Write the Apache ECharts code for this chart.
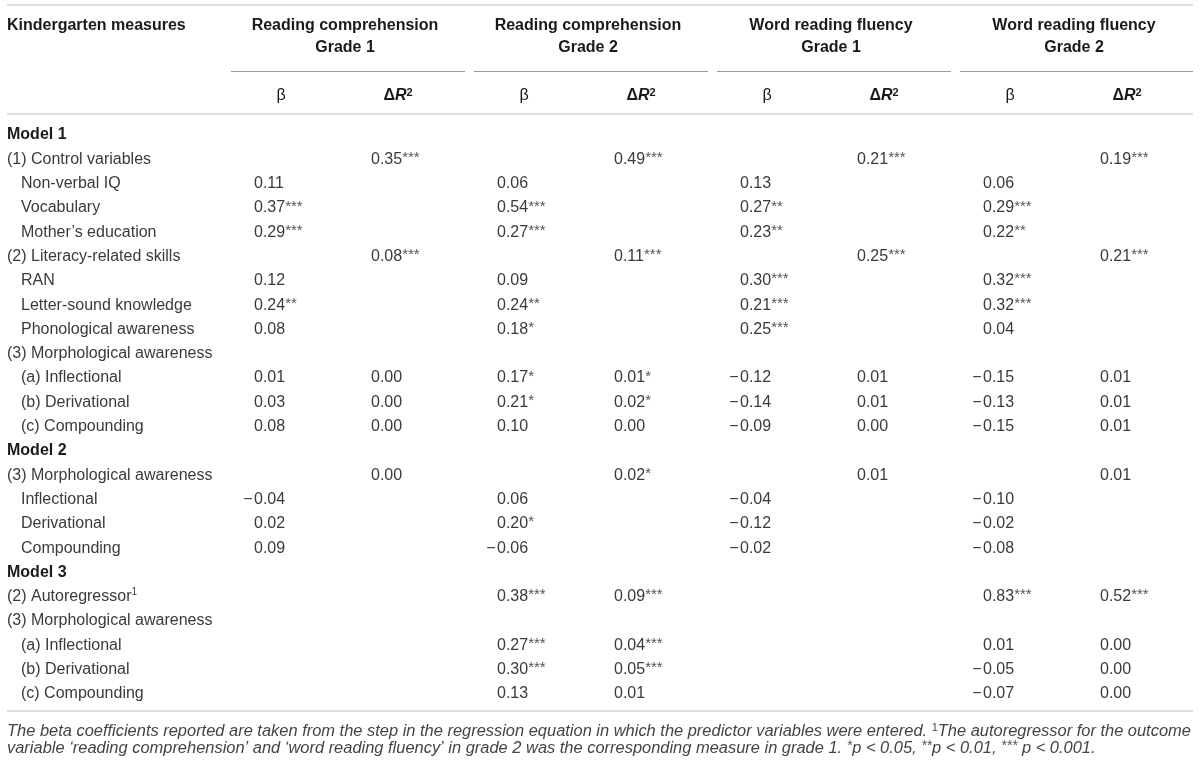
<!DOCTYPE html>
<html><head><meta charset="utf-8">
<script src="https://cdn.jsdelivr.net/npm/echarts@6/dist/echarts.min.js"></script>
<style>html,body{margin:0;padding:0;background:#fff}#c{width:1200px;height:767px}</style>
</head><body><div id="c"></div>
<script>
// ---------------- DATA ----------------
const stubHeader = 'Kindergarten measures';
const groupTitles = ['Reading comprehension', 'Reading comprehension', 'Word reading fluency', 'Word reading fluency'];
const groupGrades = ['Grade 1', 'Grade 2', 'Grade 1', 'Grade 2'];
const statHeaders = ['beta', 'dR2'];
const rowLabels = ['Model 1', '(1) Control variables', 'Non-verbal IQ', 'Vocabulary', 'Mother’s education',
  '(2) Literacy-related skills', 'RAN', 'Letter-sound knowledge', 'Phonological awareness',
  '(3) Morphological awareness', '(a) Inflectional', '(b) Derivational', '(c) Compounding',
  'Model 2', '(3) Morphological awareness', 'Inflectional', 'Derivational', 'Compounding',
  'Model 3', '(2) Autoregressor^1', '(3) Morphological awareness', '(a) Inflectional', '(b) Derivational', '(c) Compounding'];
const rowLevels = [0, 1, 2, 2, 2, 1, 2, 2, 2, 1, 2, 2, 2, 0, 1, 2, 2, 2, 0, 1, 1, 2, 2, 2];
const N = null;
const rcG1Beta  = [N, N, '0.11', '0.37***', '0.29***', N, '0.12', '0.24**', '0.08', N, '0.01', '0.03', '0.08', N, N, '-0.04', '0.02', '0.09', N, N, N, N, N, N];
const rcG1R2    = [N, '0.35***', N, N, N, '0.08***', N, N, N, N, '0.00', '0.00', '0.00', N, '0.00', N, N, N, N, N, N, N, N, N];
const rcG2Beta  = [N, N, '0.06', '0.54***', '0.27***', N, '0.09', '0.24**', '0.18*', N, '0.17*', '0.21*', '0.10', N, N, '0.06', '0.20*', '-0.06', N, '0.38***', N, '0.27***', '0.30***', '0.13'];
const rcG2R2    = [N, '0.49***', N, N, N, '0.11***', N, N, N, N, '0.01*', '0.02*', '0.00', N, '0.02*', N, N, N, N, '0.09***', N, '0.04***', '0.05***', '0.01'];
const wrfG1Beta = [N, N, '0.13', '0.27**', '0.23**', N, '0.30***', '0.21***', '0.25***', N, '-0.12', '-0.14', '-0.09', N, N, '-0.04', '-0.12', '-0.02', N, N, N, N, N, N];
const wrfG1R2   = [N, '0.21***', N, N, N, '0.25***', N, N, N, N, '0.01', '0.01', '0.00', N, '0.01', N, N, N, N, N, N, N, N, N];
const wrfG2Beta = [N, N, '0.06', '0.29***', '0.22**', N, '0.32***', '0.32***', '0.04', N, '-0.15', '-0.13', '-0.15', N, N, '-0.10', '-0.02', '-0.08', N, '0.83***', N, '0.01', '-0.05', '-0.07'];
const wrfG2R2   = [N, '0.19***', N, N, N, '0.21***', N, N, N, N, '0.01', '0.01', '0.01', N, '0.01', N, N, N, N, '0.52***', N, '0.00', '0.00', '0.00'];
const footnoteLines = [
  'The beta coefficients reported are taken from the step in the regression equation in which the predictor variables were entered. ^1The autoregressor for the outcome',
  'variable ‘reading comprehension’ and ‘word reading fluency’ in grade 2 was the corresponding measure in grade 1. *p < 0.05, **p < 0.01, *** p < 0.001.'
];

// ---------------- LAYOUT ----------------
const columns = [rcG1Beta, rcG1R2, rcG2Beta, rcG2R2, wrfG1Beta, wrfG1R2, wrfG2Beta, wrfG2R2];
const W = 1200, H = 767;
const FONT = "'Liberation Sans', Arial, Helvetica, sans-serif";
const TXT = '#3a3a3a', HEAD = '#1a1a1a', STAR = '#555555', FOOT = '#444444';
const FS = 16;
const STUB_X = 7, INDENT = 14;
const GROUP_X0 = 231, GROUP_W = 243, GROUP_RULE_W = 234;
const SUB_DX = [23, 140];
const HEAD_DX = 27;
const ROW0_PX = 135, ROW_H = 24.3;
const toRow = px => (px - ROW0_PX) / ROW_H;
const colX = k => GROUP_X0 + Math.floor(k / 2) * GROUP_W + SUB_DX[k % 2];

const SUPS = {
  s: { fontSize: 15, verticalAlign: 'top', lineHeight: 12, fill: STAR, fontFamily: FONT },
  u: { fontSize: 10, verticalAlign: 'top', lineHeight: 11, fill: TXT, fontFamily: FONT }
};
function baseStyle(extra) {
  return Object.assign({ fontSize: FS, fontFamily: FONT, fill: TXT, lineHeight: 18, verticalAlign: 'middle', align: 'left' }, extra);
}
function textEl(p, style) { return { type: 'text', x: p[0], y: p[1], style: style }; }

// Row labels
const labelData = rowLabels.map((l, i) => [STUB_X + (rowLevels[i] === 2 ? INDENT : 0), i]);

// Cells
const cellSeries = columns.map((col, k) => {
  const data = [];
  col.forEach((v, i) => { if (v != null) data.push([colX(k), i, i]); });
  return {
    type: 'custom', coordinateSystem: 'cartesian2d', silent: true, clip: false,
    data: data,
    renderItem: function (params, api) {
      const p = api.coord([api.value(0), api.value(1)]);
      const raw = col[api.value(2)];
      const m = raw.match(/^(-?)([\d.]+)(\**)$/);
      const body = m[2] + (m[3] ? '{s|' + m[3] + '}' : '');
      const children = [textEl([0, 0], baseStyle({ text: body, rich: SUPS }))];
      if (m[1]) children.push(textEl([-1.5, 0], baseStyle({ text: '−', align: 'right' })));
      return { type: 'group', x: p[0], y: p[1], children: children };
    }
  };
});

const labelSeries = {
  type: 'custom', coordinateSystem: 'cartesian2d', silent: true, clip: false,
  data: labelData,
  renderItem: function (params, api) {
    const i = params.dataIndex;
    const p = api.coord([api.value(0), api.value(1)]);
    const st = baseStyle({ text: rowLabels[i].replace('^1', '{u|1}'), rich: SUPS });
    if (rowLevels[i] === 0) { st.fontWeight = 'bold'; st.fill = HEAD; }
    return textEl(p, st);
  }
};

// Header items: [x, row, kind, idx]
const headerData = [[STUB_X, toRow(26), 0, 0]];
groupTitles.forEach((g, j) => {
  headerData.push([GROUP_X0 + j * GROUP_W + 114, toRow(26), 1, j]);
  headerData.push([GROUP_X0 + j * GROUP_W + 114, toRow(48), 2, j]);
});
for (let k = 0; k < 8; k++) headerData.push([colX(k) + HEAD_DX, toRow(96), 3, k % 2]);

const headerSeries = {
  type: 'custom', coordinateSystem: 'cartesian2d', silent: true, clip: false,
  data: headerData,
  renderItem: function (params, api) {
    const p = api.coord([api.value(0), api.value(1)]);
    const kind = api.value(2), idx = api.value(3);
    if (kind === 0) return textEl(p, baseStyle({ text: stubHeader, fontWeight: 'bold', fill: HEAD }));
    if (kind === 1) return textEl(p, baseStyle({ text: groupTitles[idx], fontWeight: 'bold', fill: HEAD, align: 'center' }));
    if (kind === 2) return textEl(p, baseStyle({ text: groupGrades[idx], fontWeight: 'bold', fill: HEAD, align: 'center' }));
    if (statHeaders[idx] === 'beta') return textEl(p, baseStyle({ text: 'β', fill: HEAD, align: 'center' }));
    return textEl(p, baseStyle({
      text: '{d|Δ}{r|R}{t|2}', align: 'center', fill: HEAD,
      rich: {
        d: { fontWeight: 'bold', fontSize: FS, fontFamily: FONT, fill: HEAD, lineHeight: 18 },
        r: { fontWeight: 'bold', fontStyle: 'italic', fontSize: FS, fontFamily: FONT, fill: HEAD, lineHeight: 18 },
        t: { fontWeight: 'bold', fontSize: 11, fontFamily: FONT, fill: HEAD, verticalAlign: 'top', lineHeight: 12 }
      }
    }));
  }
};

// Rules: [x1, row, x2, kind]
const ruleData = [
  [STUB_X, toRow(5), W - 7, 0],
  [STUB_X, toRow(114), W - 7, 0],
  [STUB_X, toRow(711), W - 7, 0]
];
groupTitles.forEach((g, j) => ruleData.push([GROUP_X0 + j * GROUP_W, toRow(71), Math.min(GROUP_X0 + j * GROUP_W + GROUP_RULE_W, W - 7), 1]));
const ruleSeries = {
  type: 'custom', coordinateSystem: 'cartesian2d', silent: true, clip: false,
  data: ruleData,
  renderItem: function (params, api) {
    const a = api.coord([api.value(0), api.value(1)]);
    const b = api.coord([api.value(2), api.value(1)]);
    const kind = api.value(3);
    const y = Math.round(a[1]) + (kind ? 0.5 : 0);
    return {
      type: 'line',
      shape: { x1: a[0], y1: y, x2: b[0], y2: y },
      style: { stroke: kind ? '#9a9a9a' : '#dedede', lineWidth: kind ? 1 : 2 }
    };
  }
};

// Footnote
const FOOT_FS = 16.45;
const footData = footnoteLines.map((l, i) => [STUB_X, toRow(731 + i * 17.5), i]);
const footSeries = {
  type: 'custom', coordinateSystem: 'cartesian2d', silent: true, clip: false,
  data: footData,
  renderItem: function (params, api) {
    const p = api.coord([api.value(0), api.value(1)]);
    const t = footnoteLines[api.value(2)].replace('^1', '{u|1}').replace(/(\*+)/g, '{a|$1}');
    return textEl(p, baseStyle({
      text: t, fontStyle: 'italic', fontSize: FOOT_FS, fill: FOOT,
      rich: {
        u: { fontSize: 11, verticalAlign: 'top', lineHeight: 12, fill: FOOT, fontFamily: FONT },
        a: { fontSize: 14, fontStyle: 'italic', verticalAlign: 'top', lineHeight: 13, fill: STAR, fontFamily: FONT }
      }
    }));
  }
};

const chart = echarts.init(document.getElementById('c'), null, { renderer: 'canvas' });
chart.setOption({
  backgroundColor: '#ffffff',
  animation: false,
  grid: { left: 0, right: 0, top: 0, bottom: 0 },
  xAxis: { type: 'value', min: 0, max: W, show: false },
  yAxis: { type: 'value', inverse: true, min: toRow(0), max: toRow(H), show: false },
  series: [ruleSeries, headerSeries, labelSeries].concat(cellSeries).concat([footSeries])
});
</script>
</body></html>
